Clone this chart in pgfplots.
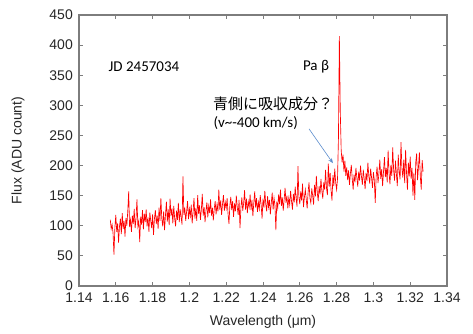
\documentclass[border=0pt]{standalone}
\usepackage{fontspec}
\setmainfont{Liberation Sans}
\newfontfamily\calfont{Carlito}
\newfontfamily\jpfont{Noto Sans CJK JP}
\usepackage{pgfplots}
\pgfplotsset{compat=1.18}
\usetikzlibrary{arrows.meta}
\definecolor{axgray}{RGB}{125,125,125}
\definecolor{arrowblue}{RGB}{91,140,205}
\pgfplotstableread{
x y
1.1570 110
1.1575 95
1.1580 102
1.1585 88
1.1590 52
1.1595 97
1.1600 118
1.1605 90
1.1610 104
1.1615 72
1.1620 99
1.1625 112
1.1630 86
1.1635 121
1.1640 95
1.1645 108
1.1650 82
1.1655 113
1.1660 100
1.1665 124
1.1670 157
1.1675 98
1.1680 110
1.1685 90
1.1690 117
1.1695 103
1.1700 128
1.1705 96
1.1710 112
1.1715 144
1.1720 99
1.1725 108
1.1730 73
1.1735 115
1.1740 102
1.1745 126
1.1750 94
1.1755 120
1.1760 106
1.1765 127
1.1770 99
1.1775 114
1.1780 90
1.1785 122
1.1790 108
1.1795 96
1.1800 119
1.1805 85
1.1810 112
1.1815 126
1.1820 103
1.1825 117
1.1830 95
1.1835 130
1.1840 108
1.1845 146
1.1850 112
1.1855 99
1.1860 124
1.1865 93
1.1870 118
1.1875 140
1.1880 107
1.1885 127
1.1890 101
1.1895 145
1.1900 116
1.1905 129
1.1910 104
1.1915 133
1.1920 112
1.1925 99
1.1930 125
1.1935 110
1.1940 138
1.1945 106
1.1950 127
1.1955 114
1.1960 102
1.1965 182
1.1970 118
1.1975 130
1.1980 108
1.1985 124
1.1990 141
1.1995 111
1.2000 128
1.2005 116
1.2010 135
1.2015 104
1.2020 123
1.2025 146
1.2030 112
1.2035 129
1.2040 108
1.2045 151
1.2050 120
1.2055 134
1.2060 110
1.2065 127
1.2070 153
1.2075 117
1.2080 131
1.2085 106
1.2090 125
1.2095 139
1.2100 114
1.2105 133
1.2110 121
1.2115 144
1.2120 117
1.2125 130
1.2130 109
1.2135 128
1.2140 141
1.2145 119
1.2150 135
1.2155 124
1.2160 160
1.2165 127
1.2170 142
1.2175 118
1.2180 136
1.2185 151
1.2190 125
1.2195 139
1.2200 129
1.2205 146
1.2210 120
1.2215 103
1.2220 134
1.2225 148
1.2230 126
1.2235 141
1.2240 115
1.2245 137
1.2250 124
1.2255 150
1.2260 131
1.2265 118
1.2270 143
1.2275 96
1.2280 130
1.2285 147
1.2290 125
1.2295 138
1.2300 159
1.2305 127
1.2310 145
1.2315 121
1.2320 140
1.2325 131
1.2330 152
1.2335 126
1.2340 143
1.2345 116
1.2350 138
1.2355 157
1.2360 130
1.2365 146
1.2370 123
1.2375 139
1.2380 128
1.2385 151
1.2390 134
1.2395 112
1.2400 145
1.2405 130
1.2410 158
1.2415 136
1.2420 124
1.2425 149
1.2430 131
1.2435 143
1.2440 119
1.2445 138
1.2450 155
1.2455 127
1.2460 146
1.2465 134
1.2470 93
1.2475 140
1.2480 129
1.2485 152
1.2490 136
1.2495 160
1.2500 133
1.2505 147
1.2510 125
1.2515 144
1.2520 163
1.2525 138
1.2530 150
1.2535 129
1.2540 146
1.2545 135
1.2550 158
1.2555 141
1.2560 127
1.2565 153
1.2570 139
1.2575 165
1.2580 145
1.2585 132
1.2590 199
1.2595 148
1.2600 136
1.2605 157
1.2610 142
1.2615 170
1.2620 131
1.2625 147
1.2630 160
1.2635 144
1.2640 129
1.2645 155
1.2650 172
1.2655 146
1.2660 138
1.2665 162
1.2670 150
1.2675 135
1.2680 168
1.2685 149
1.2690 183
1.2695 155
1.2700 141
1.2705 166
1.2710 152
1.2715 178
1.2720 158
1.2725 145
1.2730 172
1.2735 160
1.2740 193
1.2745 163
1.2750 151
1.2755 203
1.2760 165
1.2765 188
1.2770 158
1.2775 142
1.2780 184
1.2785 166
1.2790 195
1.2795 172
1.2800 160
1.2805 178
1.2810 245
1.2815 415
1.2820 290
1.2825 225
1.2830 205
1.2835 218
1.2840 190
1.2845 208
1.2850 183
1.2855 197
1.2860 176
1.2865 192
1.2870 168
1.2875 187
1.2880 201
1.2885 178
1.2890 160
1.2895 185
1.2900 172
1.2905 196
1.2910 180
1.2915 165
1.2920 190
1.2925 175
1.2930 200
1.2935 182
1.2940 168
1.2945 193
1.2950 178
1.2955 161
1.2960 188
1.2965 174
1.2970 205
1.2975 183
1.2980 170
1.2985 195
1.2990 180
1.2995 163
1.3000 189
1.3005 176
1.3010 138
1.3015 182
1.3020 198
1.3025 171
1.3030 187
1.3035 210
1.3040 178
1.3045 194
1.3050 166
1.3055 190
1.3060 214
1.3065 181
1.3070 196
1.3075 172
1.3080 225
1.3085 188
1.3090 169
1.3095 201
1.3100 183
1.3105 230
1.3110 192
1.3115 175
1.3120 208
1.3125 186
1.3130 166
1.3135 218
1.3140 190
1.3145 177
1.3150 239
1.3155 195
1.3160 180
1.3165 210
1.3170 171
1.3175 226
1.3180 188
1.3185 160
1.3190 205
1.3195 182
1.3200 215
1.3205 178
1.3210 196
1.3215 150
1.3220 188
1.3225 143
1.3230 205
1.3235 220
1.3240 176
1.3245 198
1.3250 222
1.3255 182
1.3260 160
1.3265 209
1.3270 190
}\spectrum
\begin{document}
\begin{tikzpicture}
\useasboundingbox (-79bp,-48bp) rectangle (394bp,286bp);
\begin{axis}[
  at={(0,0)}, anchor=south west, scale only axis,
  width=368bp, height=271bp,
  xmin=1.14, xmax=1.34, ymin=0, ymax=450,
  xtick={1.14,1.16,1.18,1.2,1.22,1.24,1.26,1.28,1.3,1.32,1.34},
  ytick={0,50,100,150,200,250,300,350,400,450},
  tick align=inside,
  major tick length=4bp,
  axis line style={axgray, line width=1.5bp},
  every tick/.style={axgray, line width=1bp},
  /pgf/number format/assume math mode=true,
  tick label style={font=\fontsize{14bp}{16bp}\selectfont, text=black!85, inner sep=1bp},
  xticklabel style={yshift=-6bp},
  yticklabel style={xshift=-5bp},
  label style={font=\fontsize{14bp}{16bp}\selectfont, text=black!85},
  xlabel={Wavelength (μm)},
  ylabel={Flux (ADU count)},
  xlabel style={at={(axis description cs:0.5,-0.133)}, anchor=center},
  ylabel style={at={(axis description cs:-0.166,0.5)}, anchor=center},
]
\addplot[red, line width=0.65bp, no marks] table[x=x, y=y] {\spectrum};
\node[inner sep=0pt, font=\calfont\fontsize{15bp}{17bp}\selectfont] at (axis cs:1.1753,365) {JD 2457034};
\node[inner sep=0pt, font=\calfont\fontsize{15bp}{17bp}\selectfont] at (axis cs:1.2688,365) {Pa β};
\node[inner sep=0pt, anchor=west, font=\jpfont\fontsize{15bp}{17bp}\selectfont] at (axis cs:1.2128,302) {青側に吸収成分？};
\node[inner sep=0pt, anchor=west, font=\calfont\fontsize{15bp}{17bp}\selectfont] at (axis cs:1.2130,271) {(v\textasciitilde-400 km/s)};
\draw[arrowblue, line width=0.6bp, -{Stealth[length=5bp,width=4bp]}] (axis cs:1.265,261) -- (axis cs:1.278,204);
\end{axis}
\end{tikzpicture}
\end{document}
